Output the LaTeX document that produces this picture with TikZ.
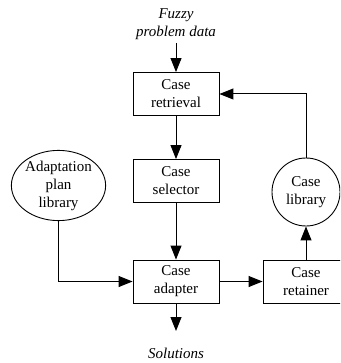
\documentclass[tikz,border=0pt]{standalone}
\usepackage{fontspec}
\setmainfont{Liberation Serif}
\usetikzlibrary{arrows.meta,shapes.geometric}
\begin{document}
\begin{tikzpicture}[x=1pt,y=-1pt,
  every node/.style={font=\fontsize{15}{18}\selectfont, align=center, inner sep=0pt},
  block/.style={draw, line width=0.9pt, minimum width=86pt, minimum height=43pt},
  store/.style={draw, line width=0.9pt, circle, minimum size=68pt},
  plan/.style={draw, line width=0.9pt, ellipse, minimum width=89pt, minimum height=63pt},
  label/.style={font=\fontsize{15}{18}\selectfont\itshape},
  flow/.style={line width=1pt, -{Triangle[length=14pt,width=11pt]}}]
  \useasboundingbox (0,0) rectangle (340,363);
  \clip (0,0) rectangle (340,363);
  % processing stages
  \node[block] (retrieval) at (176,94) {Case\\retrieval};
  \node[block] (selector) at (176,181) {Case\\selector};
  \node[block] (adapter) at (176,281.5) {Case\\adapter};
  \node[block] (retainer) at (306,281.5) {Case\\retainer};
  % knowledge stores
  \node[store] (library) at (306,192) {Case\\library};
  \node[plan] (adaptlib) at (58.5,185.5) {Adaptation\\plan\\library};
  % external input and output
  \node[label] (input) at (176,24) {Fuzzy\\problem data};
  \node[label] (output) at (176,353) {Solutions};
  \coordinate (inend) at (176,43);
  \coordinate (outend) at (176,331);
  % connectors
  \draw[flow] (inend) -- (retrieval.north);
  \draw[flow] (retrieval) -- (selector);
  \draw[flow] (selector) -- (adapter);
  \draw[flow] (adaptlib.south) |- (adapter.west);
  \draw[flow] (adapter) -- (retainer);
  \draw[flow] (retainer) -- (library);
  \draw[flow] (library.north) |- (retrieval.east);
  \draw[flow] (adapter.south) -- (outend);
\end{tikzpicture}
\end{document}
